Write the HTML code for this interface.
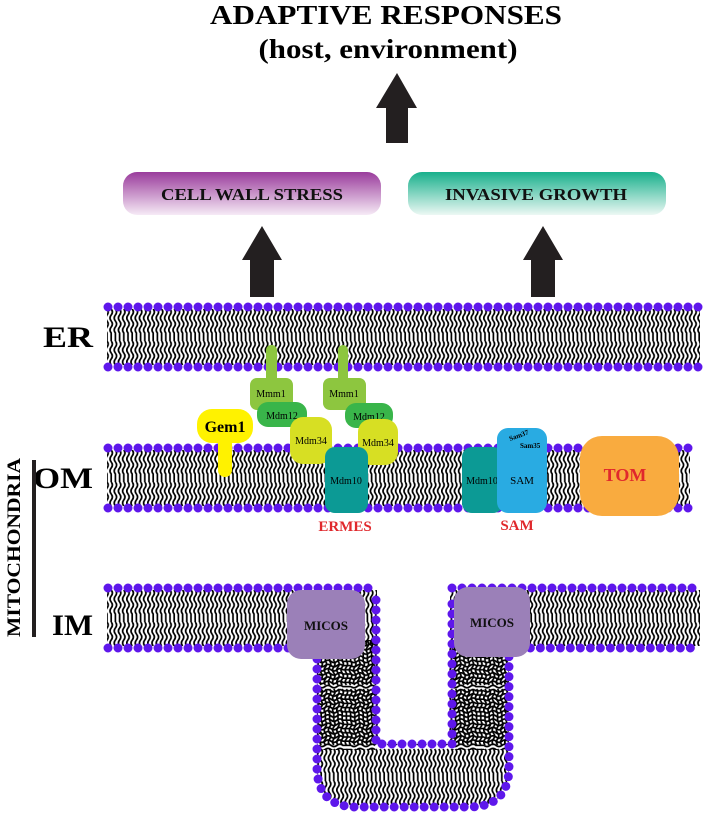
<!DOCTYPE html>
<html><head><meta charset="utf-8"><style>html,body{margin:0;padding:0;background:#fff}svg{display:block}</style></head>
<body>
<svg width="708" height="814" viewBox="0 0 708 814" xmlns="http://www.w3.org/2000/svg" font-family="Liberation Serif, serif">
<defs>
  <linearGradient id="gP" x1="0" y1="0" x2="0" y2="1">
    <stop offset="0" stop-color="#9a3c9c"/><stop offset="1" stop-color="#f6eaf6"/>
  </linearGradient>
  <linearGradient id="gT" x1="0" y1="0" x2="0" y2="1">
    <stop offset="0" stop-color="#18b08c"/><stop offset="1" stop-color="#ecf8f4"/>
  </linearGradient>
  <g id="col">
    <path d="M2,2 q2.4,3 0,6 q-2.4,3 0,6 q2.4,3 0,6 q-2.4,3 0,6 l0,4 M2,34 q2.4,3 0,6 q-2.4,3 0,6 q2.4,3 0,6 q-2.4,3 0,6 M2,30 v4" fill="none" stroke="#000" stroke-width="1.7"/>
  </g>
  <pattern id="pER" patternUnits="userSpaceOnUse" x="0" y="307" width="4.2" height="60"><use href="#col"/></pattern>
  <pattern id="pOM" patternUnits="userSpaceOnUse" x="0" y="448" width="4.2" height="60"><use href="#col"/></pattern>
  <pattern id="pIM" patternUnits="userSpaceOnUse" x="0" y="588" width="4.2" height="60"><use href="#col"/></pattern>
  <pattern id="pUB" patternUnits="userSpaceOnUse" x="0" y="747" width="4.2" height="60"><use href="#col"/></pattern>
  <pattern id="pVL" patternUnits="userSpaceOnUse" x="317" y="0" width="60" height="4.2"><use href="#col" transform="matrix(0 1 1 0 0 0)"/></pattern>
  <pattern id="pVR" patternUnits="userSpaceOnUse" x="450" y="0" width="60" height="4.2"><use href="#col" transform="matrix(0 1 1 0 0 0)"/></pattern>
</defs>

<!-- Title -->
<text x="386" y="24" text-anchor="middle" font-size="27" font-weight="bold" textLength="352" lengthAdjust="spacingAndGlyphs">ADAPTIVE RESPONSES</text>
<text x="388" y="58" text-anchor="middle" font-size="27" font-weight="bold" textLength="259" lengthAdjust="spacingAndGlyphs">(host, environment)</text>

<!-- Arrows -->
<polygon points="397,73 417,108 408,108 408,143 386,143 386,108 376,108" fill="#231f20"/>
<polygon points="262,226 282,260 274,260 274,297 250,297 250,260 242,260" fill="#231f20"/>
<polygon points="543,226 563,260 555,260 555,297 531,297 531,260 523,260" fill="#231f20"/>

<!-- Pills -->
<rect x="123" y="172" width="258" height="43" rx="14" fill="url(#gP)"/>
<text x="252" y="200" text-anchor="middle" font-size="17" font-weight="bold" textLength="182" lengthAdjust="spacingAndGlyphs" fill="#111">CELL WALL STRESS</text>
<rect x="408" y="172" width="258" height="43" rx="14" fill="url(#gT)"/>
<text x="536" y="200" text-anchor="middle" font-size="17" font-weight="bold" textLength="182" lengthAdjust="spacingAndGlyphs" fill="#111">INVASIVE GROWTH</text>

<!-- ER membrane -->
<rect x="107" y="309" width="593" height="56" fill="url(#pER)"/>
<path d="M108,307 H700 M108,367 H700" stroke="#5e17eb" stroke-width="9" stroke-linecap="round" stroke-dasharray="0 10" fill="none"/>

<!-- OM membrane -->
<rect x="107" y="450" width="583" height="56" fill="url(#pOM)"/>
<path d="M108,448 H690 M108,508 H690" stroke="#5e17eb" stroke-width="9" stroke-linecap="round" stroke-dasharray="0 10" fill="none"/>

<!-- IM membrane + crista -->
<rect x="107" y="590" width="270" height="56" fill="url(#pIM)"/>
<rect x="450" y="590" width="250" height="56" fill="url(#pIM)"/>
<path d="M317,640 V767 Q317,807 357,807 H469 Q509,807 509,767 V640 Z" fill="url(#pUB)"/>
<rect x="317" y="640" width="60" height="110" fill="url(#pVL)"/>
<rect x="450" y="640" width="60" height="110" fill="url(#pVR)"/>
<rect x="378" y="588" width="71" height="156" fill="#fff"/>
<path d="M108,588 H376 M452,588 H700" stroke="#5e17eb" stroke-width="9" stroke-linecap="round" stroke-dasharray="0 10" fill="none"/>
<path d="M108,648 H317 V767 Q317,807 357,807 H469 Q509,807 509,767 V648 H700" stroke="#5e17eb" stroke-width="9" stroke-linecap="round" stroke-dasharray="0 10" fill="none"/>
<path d="M376,600 V744 H452 V600" stroke="#5e17eb" stroke-width="9" stroke-linecap="round" stroke-dasharray="0 10" fill="none"/>

<!-- Left labels -->
<text x="43" y="347" font-size="30" font-weight="bold" textLength="50" lengthAdjust="spacingAndGlyphs">ER</text>
<text x="33" y="488" font-size="30" font-weight="bold" textLength="60" lengthAdjust="spacingAndGlyphs">OM</text>
<text x="52" y="635" font-size="30" font-weight="bold" textLength="41" lengthAdjust="spacingAndGlyphs">IM</text>
<rect x="32" y="460" width="4" height="177" fill="#231f20"/>
<text transform="translate(20,637) rotate(-90)" font-size="19" font-weight="bold" textLength="179" lengthAdjust="spacingAndGlyphs">MITOCHONDRIA</text>

<!-- Gem1 -->
<rect x="218" y="430" width="14" height="40" fill="#fff200"/>
<circle cx="225" cy="470" r="7" fill="#fff200"/>
<rect x="197" y="409" width="56" height="34" rx="15" fill="#fff200"/>
<text x="225" y="432" text-anchor="middle" font-size="16" font-weight="bold">Gem1</text>

<!-- ERMES left -->
<rect x="266" y="345" width="11" height="40" rx="5" fill="#8dc63f"/>
<rect x="250" y="378" width="43" height="32" rx="7" fill="#8dc63f"/>
<text x="271" y="397" text-anchor="middle" font-size="10">Mmm1</text>
<rect x="257" y="402" width="50" height="25" rx="11" fill="#39b54a"/>
<text x="282" y="419" text-anchor="middle" font-size="10">Mdm12</text>
<rect x="290" y="417" width="42" height="47" rx="13" fill="#d7df23"/>
<text x="311" y="444" text-anchor="middle" font-size="10">Mdm34</text>
<!-- ERMES right -->
<rect x="338" y="345" width="10" height="40" rx="5" fill="#8dc63f"/>
<rect x="323" y="378" width="43" height="32" rx="7" fill="#8dc63f"/>
<text x="344" y="397" text-anchor="middle" font-size="10">Mmm1</text>
<rect x="345" y="403" width="48" height="25" rx="11" fill="#39b54a"/>
<text x="369" y="420" text-anchor="middle" font-size="10">Mdm12</text>
<rect x="358" y="419" width="40" height="46" rx="13" fill="#d7df23"/>
<text x="378" y="446" text-anchor="middle" font-size="10">Mdm34</text>
<rect x="325" y="447" width="43" height="66" rx="10" fill="#0c9a95"/>
<text x="346" y="484" text-anchor="middle" font-size="10">Mdm10</text>
<text x="345" y="531" text-anchor="middle" font-size="15" font-weight="bold" fill="#e0282c">ERMES</text>

<!-- SAM -->
<rect x="462" y="447" width="41" height="66" rx="10" fill="#0c9a95"/>
<text x="482" y="484" text-anchor="middle" font-size="10">Mdm10</text>
<rect x="497" y="428" width="50" height="85" rx="11" fill="#29abe2"/>
<text x="510" y="441" font-size="7" transform="rotate(-20 510 441)" font-weight="bold">Sam37</text>
<text x="520" y="448" font-size="7" font-weight="bold">Sam35</text>
<text x="522" y="484" text-anchor="middle" font-size="11">SAM</text>
<text x="517" y="530" text-anchor="middle" font-size="15" font-weight="bold" fill="#e0282c">SAM</text>

<!-- TOM -->
<rect x="580" y="436" width="99" height="80" rx="22" fill="#f9ab3f"/>
<text x="625" y="481" text-anchor="middle" font-size="18" font-weight="bold" fill="#e0282c">TOM</text>

<!-- MICOS -->
<rect x="287" y="590" width="78" height="69" rx="14" fill="#9b80b8"/>
<text x="326" y="630" text-anchor="middle" font-size="13" font-weight="bold" fill="#111">MICOS</text>
<rect x="454" y="587" width="76" height="70" rx="14" fill="#9b80b8"/>
<text x="492" y="627" text-anchor="middle" font-size="13" font-weight="bold" fill="#111">MICOS</text>
</svg>
</body></html>
